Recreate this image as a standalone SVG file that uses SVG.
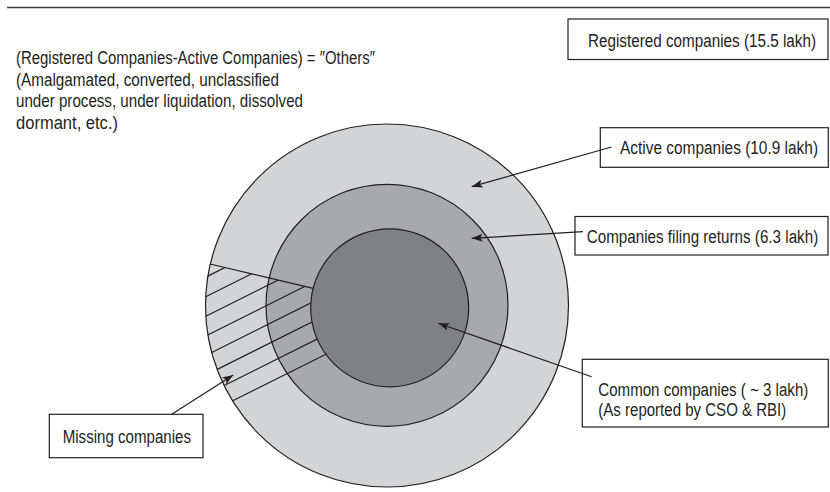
<svg xmlns="http://www.w3.org/2000/svg" width="830" height="492" viewBox="0 0 830 492">
  <style>
    .t { font-family: "Liberation Sans", Arial, sans-serif; font-size: 19px; fill: #231f20; }
    .box { fill: #ffffff; stroke: #231f20; stroke-width: 1.2; }
    .ring { stroke: #231f20; stroke-width: 1.2; }
    .hatch { stroke: #231f20; stroke-width: 1.2; fill: none; }
    .conn { stroke: #231f20; stroke-width: 1.2; fill: none; marker-end: url(#arrow); }
  </style>
  <defs>
    <marker id="arrow" markerUnits="userSpaceOnUse" markerWidth="12" markerHeight="9" refX="11" refY="4" orient="auto">
      <path d="M0,0 L11,4 L0,8 L2.5,4 Z" fill="#231f20"/>
    </marker>
    <!-- region between the outer and inner circles, below the dividing line -->
    <clipPath id="hatchArea">
      <path d="M210,264 L313.3,288.3 A79,79 0 0 0 389.7,386.8 L387,487 A181.5,181.5 0 0 1 210,264 Z"/>
    </clipPath>
  </defs>

  <rect width="830" height="492" fill="#ffffff"/>

  <!-- top rule -->
  <line x1="7" y1="7.5" x2="830" y2="7.5" stroke="#3c3c3c" stroke-width="1.4"/>

  <!-- note on the "others" category (condensed lettering via horizontal scale) -->
  <g id="others-note">
    <text class="t" transform="translate(16,64) scale(0.805,1)" textLength="446" lengthAdjust="spacingAndGlyphs">(Registered Companies-Active Companies) = ″Others″</text>
    <text class="t" transform="translate(16,85.5) scale(0.805,1)" textLength="326.7" lengthAdjust="spacingAndGlyphs">(Amalgamated, converted, unclassified</text>
    <text class="t" transform="translate(16,107) scale(0.805,1)" textLength="356.5" lengthAdjust="spacingAndGlyphs">under process, under liquidation, dissolved</text>
    <text class="t" transform="translate(16,128.5) scale(0.805,1)" textLength="126.7" lengthAdjust="spacingAndGlyphs">dormant, etc.)</text>
  </g>

  <!-- nested company sets -->
  <g id="active-companies">
    <circle class="ring" cx="387" cy="305.5" r="181.5" fill="#d3d4d6"/>
  </g>
  <g id="filing-companies">
    <circle class="ring" cx="387" cy="305.3" r="121" fill="#a8a9ac"/>
  </g>
  <g id="common-companies">
    <circle class="ring" cx="389.7" cy="307.8" r="79" fill="#808184"/>
  </g>

  <!-- missing companies: hatched band -->
  <g id="missing-area">
    <g clip-path="url(#hatchArea)" class="hatch">
      <line x1="195" y1="282.5" x2="345" y2="207.5"/>
      <line x1="195" y1="302.1" x2="345" y2="227.1"/>
      <line x1="195" y1="321.7" x2="345" y2="246.7"/>
      <line x1="195" y1="341.3" x2="345" y2="266.3"/>
      <line x1="195" y1="360.9" x2="345" y2="285.9"/>
      <line x1="195" y1="380.5" x2="345" y2="305.5"/>
      <line x1="195" y1="400.1" x2="345" y2="325.1"/>
      <line x1="195" y1="419.7" x2="345" y2="344.7"/>
    </g>
    <line class="hatch" x1="210" y1="264" x2="313.3" y2="288.3"/>
  </g>

  <!-- label boxes -->
  <g id="label-registered">
    <rect class="box" x="568" y="19" width="260" height="40.5"/>
    <text class="t" transform="translate(588,46.5) scale(0.805,1)" textLength="283.2" lengthAdjust="spacingAndGlyphs">Registered companies (15.5 lakh)</text>
  </g>
  <g id="label-active">
    <rect class="box" x="600.3" y="127.7" width="228" height="39.6"/>
    <text class="t" transform="translate(620,154) scale(0.805,1)" textLength="246" lengthAdjust="spacingAndGlyphs">Active companies (10.9 lakh)</text>
  </g>
  <g id="label-filing">
    <rect class="box" x="575" y="216.5" width="253" height="38.5"/>
    <text class="t" transform="translate(586.7,242.5) scale(0.805,1)" textLength="287.6" lengthAdjust="spacingAndGlyphs">Companies filing returns (6.3 lakh)</text>
  </g>
  <g id="label-common">
    <rect class="box" x="582.3" y="359.3" width="246" height="67.7"/>
    <text class="t" transform="translate(598.3,395.5) scale(0.805,1)" textLength="260.9" lengthAdjust="spacingAndGlyphs">Common companies ( ~ 3 lakh)</text>
    <text class="t" transform="translate(598.3,415.5) scale(0.805,1)" textLength="233.5" lengthAdjust="spacingAndGlyphs">(As reported by CSO &amp; RBI)</text>
  </g>
  <g id="label-missing">
    <rect class="box" x="49.3" y="414.3" width="153.7" height="43.4"/>
    <text class="t" transform="translate(62.7,442.5) scale(0.805,1)" textLength="159.4" lengthAdjust="spacingAndGlyphs">Missing companies</text>
  </g>

  <!-- connectors -->
  <g id="connectors">
    <line class="conn" x1="611.5" y1="147" x2="471.7" y2="186.7"/>
    <line class="conn" x1="583" y1="231.7" x2="471.7" y2="238.3"/>
    <line class="conn" x1="591.7" y1="376.7" x2="438.3" y2="323.3"/>
    <line class="conn" x1="171.7" y1="414.3" x2="233.3" y2="375"/>
  </g>
</svg>
